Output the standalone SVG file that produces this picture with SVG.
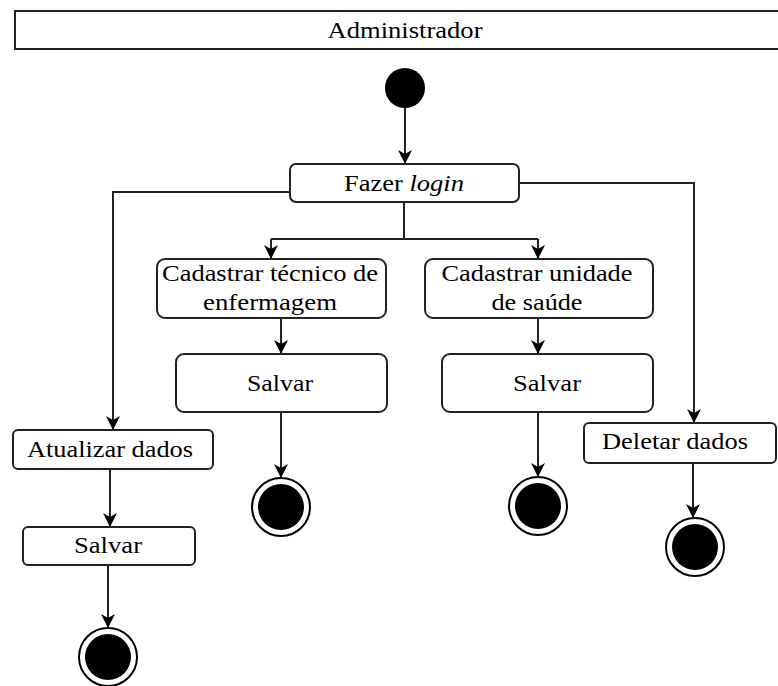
<svg xmlns="http://www.w3.org/2000/svg" width="778" height="686" viewBox="0 0 778 686">
<defs>
<marker id="arr" markerWidth="14" markerHeight="14" viewBox="0 0 14 14" refX="13" refY="7" orient="auto" markerUnits="userSpaceOnUse">
<path d="M0,0 L14,7 L0,14 L4,7 Z" fill="#000"/>
</marker>
<style>
.box{fill:#fff;stroke:#222;stroke-width:2}
.t{font-family:'Liberation Serif','DejaVu Serif',serif;font-size:24px;fill:#000;text-anchor:middle}
.c{fill:none;stroke:#222;stroke-width:2}
.ca{fill:none;stroke:#222;stroke-width:2;marker-end:url(#arr)}
.ini{fill:#000}
.fo{fill:#fff;stroke:#000;stroke-width:2}
.fi{fill:#000}
</style>
</defs>
<rect width="778" height="686" fill="#fff"/>
<g id="title">
<rect x="15" y="11" width="770" height="38" fill="#fff" stroke="#222" stroke-width="2"/>
<text class="t" x="405" y="38" textLength="155" lengthAdjust="spacingAndGlyphs">Administrador</text>
</g>
<g id="connectors">
<path class="ca" d="M405,108 V163"/>
<path class="c" d="M404,202 V239 M271,239 H538"/>
<path class="ca" d="M271,239 V258"/>
<path class="ca" d="M538,239 V258"/>
<path class="ca" d="M290,192 H113 V429"/>
<path class="ca" d="M519,183 H694 V422"/>
<path class="ca" d="M281,318 V353"/>
<path class="ca" d="M538,318 V353"/>
<path class="ca" d="M281,412 V477"/>
<path class="ca" d="M538,412 V476"/>
<path class="ca" d="M110,469 V526"/>
<path class="ca" d="M108,565 V627"/>
<path class="ca" d="M693,463 V517"/>
</g>
<g id="start"><circle class="ini" cx="405" cy="88" r="20"/></g>
<g id="login">
<rect class="box" x="290" y="164" width="229" height="38" rx="6"/>
<text class="t" x="404" y="191" textLength="120" lengthAdjust="spacingAndGlyphs">Fazer <tspan font-style="italic">login</tspan></text>
</g>
<g id="cadTecnico">
<rect class="box" x="157" y="259" width="229" height="59" rx="8"/>
<text class="t" x="270" y="281" textLength="216" lengthAdjust="spacingAndGlyphs">Cadastrar técnico de</text>
<text class="t" x="270" y="310" textLength="134" lengthAdjust="spacingAndGlyphs">enfermagem</text>
</g>
<g id="cadUnidade">
<rect class="box" x="425" y="259" width="228" height="59" rx="8"/>
<text class="t" x="537" y="281" textLength="191" lengthAdjust="spacingAndGlyphs">Cadastrar unidade</text>
<text class="t" x="537" y="310" textLength="91" lengthAdjust="spacingAndGlyphs">de saúde</text>
</g>
<g id="salvar1">
<rect class="box" x="176" y="354" width="211" height="58" rx="8"/>
<text class="t" x="280" y="391" textLength="66" lengthAdjust="spacingAndGlyphs">Salvar</text>
</g>
<g id="salvar2">
<rect class="box" x="442" y="354" width="211" height="58" rx="8"/>
<text class="t" x="547" y="391" textLength="68" lengthAdjust="spacingAndGlyphs">Salvar</text>
</g>
<g id="atualizar">
<rect class="box" x="13" y="430" width="200" height="39" rx="5"/>
<text class="t" x="110" y="457" textLength="166" lengthAdjust="spacingAndGlyphs">Atualizar dados</text>
</g>
<g id="salvar3">
<rect class="box" x="23" y="527" width="172" height="38" rx="5"/>
<text class="t" x="108" y="553" textLength="68" lengthAdjust="spacingAndGlyphs">Salvar</text>
</g>
<g id="deletar">
<rect class="box" x="584" y="423" width="192" height="40" rx="5"/>
<text class="t" x="675" y="449" textLength="146" lengthAdjust="spacingAndGlyphs">Deletar dados</text>
</g>
<g id="end1"><circle class="fo" cx="281" cy="507" r="29"/><circle class="fi" cx="281" cy="507" r="23"/></g>
<g id="end2"><circle class="fo" cx="538" cy="506" r="29"/><circle class="fi" cx="538" cy="506" r="23"/></g>
<g id="end3"><circle class="fo" cx="695" cy="547" r="29"/><circle class="fi" cx="695" cy="547" r="23"/></g>
<g id="end4"><circle class="fo" cx="108" cy="657" r="29"/><circle class="fi" cx="108" cy="657" r="23"/></g>
</svg>
